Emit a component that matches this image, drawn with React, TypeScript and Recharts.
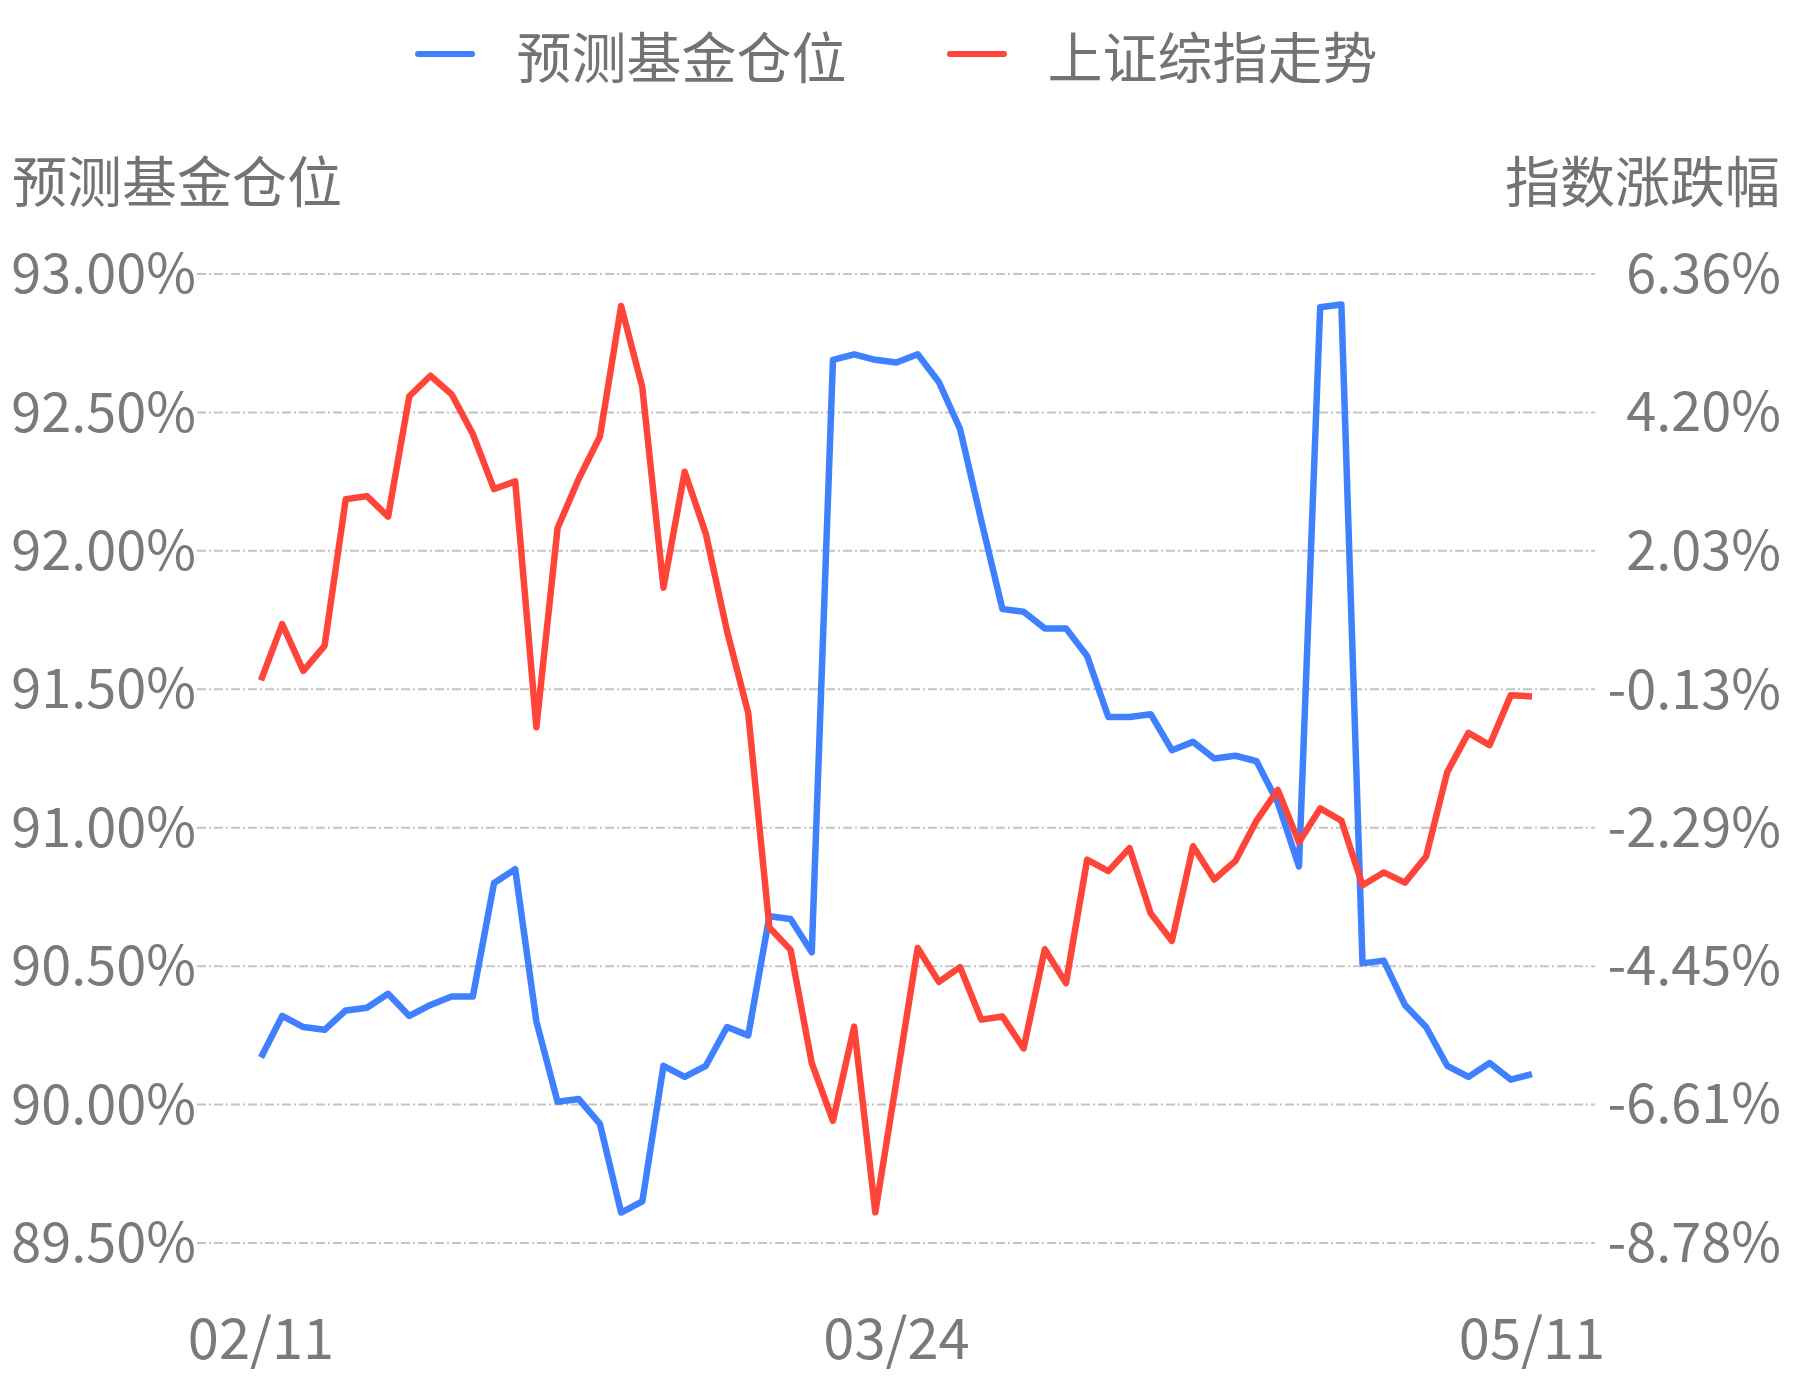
import React from "react";
import {
  LineChart,
  Line,
  XAxis,
  YAxis,
  CartesianGrid,
  Legend,
} from "recharts";

// trading days shown on the x axis
const dates = [
  "02/11", "02/12", "02/13", "02/14", "02/17", "02/18", "02/19", "02/20", "02/21",
  "02/24", "02/25", "02/26", "02/27", "02/28", "03/02", "03/03", "03/04", "03/05",
  "03/06", "03/09", "03/10", "03/11", "03/12", "03/13", "03/16", "03/17", "03/18",
  "03/19", "03/20", "03/23", "03/24", "03/25", "03/26", "03/27", "03/30", "03/31",
  "04/01", "04/02", "04/03", "04/07", "04/08", "04/09", "04/10", "04/13", "04/14",
  "04/15", "04/16", "04/17", "04/20", "04/21", "04/22", "04/23", "04/24", "04/27",
  "04/28", "04/29", "04/30", "05/06", "05/07", "05/08", "05/11",
];

// 预测基金仓位 (%), left axis
const fundPosition = [
  90.17, 90.32, 90.28, 90.27, 90.34, 90.35, 90.4, 90.32, 90.36, 90.39,
  90.39, 90.8, 90.85, 90.3, 90.01, 90.02, 89.93, 89.61, 89.65, 90.14,
  90.1, 90.14, 90.28, 90.25, 90.68, 90.67, 90.55, 92.69, 92.71, 92.69,
  92.68, 92.71, 92.61, 92.44, 92.11, 91.79, 91.78, 91.72, 91.72, 91.62,
  91.4, 91.4, 91.41, 91.28, 91.31, 91.25, 91.26, 91.24, 91.09, 90.86,
  92.88, 92.89, 90.51, 90.52, 90.36, 90.28, 90.14, 90.1, 90.15, 90.09,
  90.11,
];

// 上证综指走势 (%), right axis
const indexChange = [
  0.01, 0.89, 0.16, 0.55, 2.84, 2.89, 2.57, 4.45, 4.77, 4.48,
  3.86, 3.0, 3.12, -0.72, 2.39, 3.16, 3.82, 5.86, 4.59, 1.46,
  3.27, 2.3, 0.78, -0.5, -3.85, -4.2, -5.97, -6.87, -5.4, -8.3,
  -6.24, -4.17, -4.7, -4.47, -5.29, -5.24, -5.74, -4.19, -4.72, -2.79,
  -2.97, -2.61, -3.63, -4.06, -2.58, -3.1, -2.81, -2.18, -1.7, -2.52,
  -1.99, -2.18, -3.19, -2.99, -3.15, -2.74, -1.42, -0.81, -1.0, -0.22,
  -0.24,
];

const leftTicks = [89.5, 90, 90.5, 91, 91.5, 92, 92.5, 93];
const rightTicks = [-8.78, -6.61, -4.45, -2.29, -0.13, 2.03, 4.2, 6.36];

const rows = dates.map((date, i) => ({
  date,
  fund: fundPosition[i],
  index: indexChange[i],
}));

const FONT = '"Noto Sans CJK SC", "Noto Sans", sans-serif';
const TEXT = "#7a7a7a";
const BLUE = "#3f80ff";
const RED = "#ff453a";

const pct = (v: number) => v.toFixed(2) + "%";

function LegendBar(props: any) {
  const items = props.payload || [];
  return (
    <div
      style={{
        height: 108,
        display: "flex",
        justifyContent: "center",
        alignItems: "center",
        fontFamily: FONT,
        fontSize: 55,
        color: "#737373",
      }}
    >
      {items.map((it: any, i: number) => (
        <div
          key={it.value}
          style={{ display: "flex", alignItems: "center", marginLeft: i ? 100 : 0 }}
        >
          <span
            style={{
              width: 60,
              height: 6,
              borderRadius: 3,
              background: it.color,
              marginRight: 41,
            }}
          />
          <span style={{ lineHeight: 1 }}>{it.value}</span>
        </div>
      ))}
    </div>
  );
}

function AxisTitle(props: any) {
  const { viewBox, text, side } = props;
  const left = side === "left";
  return (
    <text
      x={left ? viewBox.x + 12 : viewBox.x + viewBox.width - 13}
      y={viewBox.y - 96}
      textAnchor={left ? "start" : "end"}
      dominantBaseline="central"
      fill="#737373"
      fontSize={55}
      fontFamily={FONT}
    >
      {text}
    </text>
  );
}

const tickStyle = { fill: TEXT, fontSize: 54, fontFamily: FONT };

export default function App() {
  return (
    <div style={{ position: "absolute", left: 0, top: 0, background: "#fff" }}>
      <LineChart
        width={1793}
        height={1380}
        data={rows}
        margin={{ top: 166, right: 0, bottom: 0, left: 0 }}
      >
        <CartesianGrid
          yAxisId="left"
          vertical={false}
          stroke="#c4c4c4"
          strokeWidth={2}
          strokeDasharray="9 3 2 3"
        />
        <XAxis
          dataKey="date"
          interval={29}
          axisLine={false}
          tickLine={false}
          tickSize={0}
          tickMargin={76}
          height={137}
          padding={{ left: 64, right: 63 }}
          tick={{ ...tickStyle, fontSize: 56 }}
        />
        <YAxis
          yAxisId="left"
          orientation="left"
          width={197}
          domain={[89.5, 93]}
          ticks={leftTicks}
          tickFormatter={pct}
          axisLine={false}
          tickLine={false}
          tickSize={0}
          tickMargin={1}
          tick={tickStyle}
          label={<AxisTitle side="left" text="预测基金仓位" />}
        />
        <YAxis
          yAxisId="right"
          orientation="right"
          width={198}
          domain={[-8.78, 6.36]}
          ticks={rightTicks}
          tickFormatter={pct}
          axisLine={false}
          tickLine={false}
          tickSize={0}
          tickMargin={186}
          tick={{ ...tickStyle, textAnchor: "end" }}
          label={<AxisTitle side="right" text="指数涨跌幅" />}
        />
        <Legend
          verticalAlign="top"
          align="center"
          itemSorter="dataKey"
          wrapperStyle={{ top: 0, left: 0 }}
          content={<LegendBar />}
        />
        <Line
          yAxisId="left"
          type="linear"
          dataKey="fund"
          name="预测基金仓位"
          stroke={BLUE}
          strokeWidth={6.5}
          strokeLinejoin="round"
          dot={false}
          activeDot={false}
          isAnimationActive={false}
        />
        <Line
          yAxisId="right"
          type="linear"
          dataKey="index"
          name="上证综指走势"
          stroke={RED}
          strokeWidth={6.5}
          strokeLinejoin="round"
          dot={false}
          activeDot={false}
          isAnimationActive={false}
        />
      </LineChart>
    </div>
  );
}
